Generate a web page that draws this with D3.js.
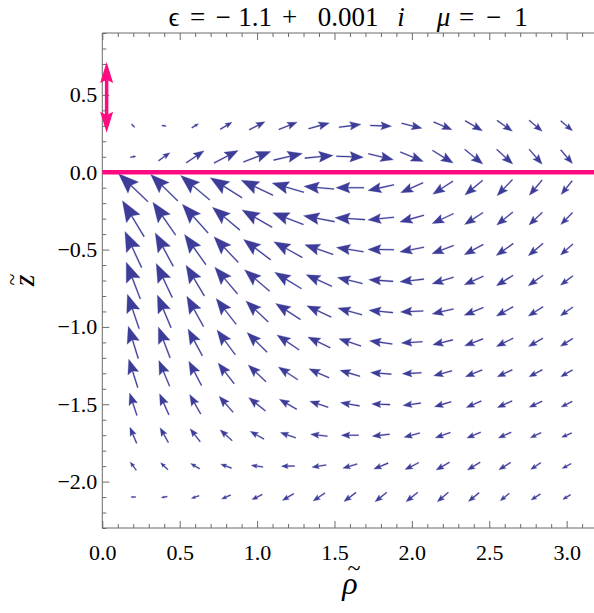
<!DOCTYPE html>
<html><head><meta charset="utf-8">
<script src="https://cdn.jsdelivr.net/npm/d3@7"></script>
<style>body{margin:0;background:#fff}</style>
</head><body>
<script>
// ---- data ----
const xGrid = [0.2,0.4,0.6,0.8,1.0,1.2,1.4,1.6,1.8,2.0,2.2,2.4,2.6,2.8,3.0];
const zGrid = [0.3,0.1,-0.1,-0.3,-0.5,-0.7,-0.9,-1.1,-1.3,-1.5,-1.7,-1.9,-2.1];
// vector components (rho, z), one row per z value
const uComp = [
 [3.4,4.5,6.7,11.7,15.7,18.3,20.7,22,21.3,20.3,18.3,17.3,15.3,13,11.7],
 [5.7,11.3,17.7,24,27.3,28.7,28.3,27,25,23,20.7,18,16,13,11.7],
 [-29.3,-27,-29,-31.7,-31.7,-31.7,-30,-28,-26,-22.3,-20,-17.7,-15.3,-12.7,-11],
 [-21.7,-22.7,-25.7,-27.3,-30,-30.7,-31,-30,-26,-24,-21.3,-18.3,-16,-13.3,-11.7],
 [-16.7,-18,-21.3,-24.3,-27,-28.3,-28.3,-27,-26,-24,-21.7,-19,-17,-14.7,-12.3],
 [-14,-16,-18.3,-22.7,-25,-26.7,-25.7,-25,-24.3,-24,-21.3,-19,-16.7,-14.7,-12.3],
 [-11.7,-13.7,-16.7,-20,-22.3,-24.7,-24.3,-24,-24,-22.7,-21.3,-19,-16.7,-14.7,-12.3],
 [-10,-11.7,-14.3,-18.3,-20,-22,-22.3,-22,-22.7,-21,-20,-18.3,-16.7,-14.3,-12.3],
 [-9,-10.7,-12.7,-16,-17.7,-19.3,-20,-20,-20.7,-19,-18.3,-16.7,-15,-13.3,-11.7],
 [-7.3,-9.3,-11,-14,-16.7,-17.3,-18.3,-19,-18.3,-17.7,-16.7,-15,-14.7,-12.7,-11],
 [-6.7,-8.3,-10,-12,-13.7,-15.3,-16.7,-17.3,-17.3,-15.7,-15,-13.7,-12.7,-10.7,-10],
 [-6,-7.3,-9,-10.7,-11.7,-13.3,-14.3,-14.3,-14.3,-13.7,-13.3,-12.7,-11.7,-10,-9],
 [-5,-6,-7.7,-9,-10.3,-11.3,-11.7,-12,-11.7,-11.7,-11,-10.7,-9,-9.3,-7.7]
];
const vComp = [
 [-3.3,-0.5,4,7,8,7.3,5.7,3,-0.7,-5,-7.7,-10,-10.7,-11,-10],
 [1,8,12,12.3,10.3,6.7,2.7,-1,-6,-9.3,-12.7,-14.7,-14.7,-15,-13.7],
 [27.7,26.3,24.3,20,15,9.3,2.7,0,-5.7,-10,-13,-14.7,-16,-15,-13.7],
 [36,32.7,28.7,22.7,17.3,11.7,6,2,-2.7,-6.7,-10,-12,-13,-12.7,-12],
 [36,33.3,30,25.7,20.3,15.7,9.7,4.3,0.3,-4.7,-8.3,-10.3,-12,-12.3,-11],
 [36.7,34,30.7,26.7,21.3,16.3,11.7,6,1.7,-2.7,-6.7,-8.7,-10.3,-10.3,-9.3],
 [34.3,32.7,30.3,25.7,21,16,11.3,6.7,2.3,-1,-5,-7.7,-9.3,-9.3,-8.7],
 [32.3,30.7,26.7,24.7,19.7,15,10.7,7.3,3.3,-1.3,-5,-7,-8.3,-8.3,-7.7],
 [28.3,25.7,24.3,20.7,16.7,12.7,9,6,1.7,-1,-5,-6.7,-7,-7,-6.7],
 [22.3,21,19.3,16,13.3,10,6,3.3,0.7,-2.3,-5,-6.3,-6.7,-6,-5.7],
 [16,14.7,13,10.7,7.7,5.3,2,0,-2,-4.3,-5.3,-5.7,-5.7,-5,-4.3],
 [8.3,7,5.3,4,1.7,-0.3,-2.3,-4.3,-6,-7,-7.7,-7.7,-7.3,-6.7,-5],
 [0,-1,-2.7,-4,-5,-6.7,-8,-9,-9.3,-9.3,-9.3,-8.7,-7.3,-6,-4.7]
];
const vecScale = 1/154.7;           // field units -> data units
const xMajor = [0,0.5,1.0,1.5,2.0,2.5,3.0];
const yMajor = [-2.0,-1.5,-1.0,-0.5,0.0,0.5];
const xDomain = [0,3.2], yDomain = [-2.3,0.9];
const sourceArrow = {x:0.028, z0:0.255, z1:0.713};
const titleParts = [
 {t:"ϵ", it:false},{t:"=", it:false},{t:"−", it:false},{t:"1.1", it:false},{t:"+", it:false},
 {t:"0.001", it:false},{t:"i", it:true},{t:"μ", it:true},{t:"=", it:false},{t:"−", it:false},{t:"1", it:false}
];

// ---- layout ----
const W=594,H=613;
const L=102.3, R=597.6, T=33, B=528;
const F="Liberation Serif";
const svg=d3.select("body").append("svg").attr("width",W).attr("height",H).attr("font-family",F);
const x=d3.scaleLinear().domain(xDomain).range([L,R]);
const y=d3.scaleLinear().domain(yDomain).range([B,T]);
const frameCol="#6a6a6a";
const arrowCol="#3d3d99";
const pink="#ff0a80";

// title
const tMid=[174,197.5,223,255,289.5,348,401,443.5,466.5,493.5,521];
titleParts.forEach((p,k)=>{
  const t=svg.append("text").attr("x",tMid[k]).attr("y",26).attr("text-anchor","middle")
   .attr("font-family",F).attr("font-size",27).text(p.t);
  if(p.it) t.attr("font-style","italic");
});
// axis labels
const cx=(L+R)/2;
svg.append("text").attr("x",cx).attr("y",594).attr("text-anchor","middle").attr("font-family",F)
  .attr("font-size",32).attr("font-style","italic").text("ρ");
svg.append("text").attr("x",cx+4).attr("y",576).attr("text-anchor","middle").attr("font-family",F)
  .attr("font-size",24).text("~");
const gz=svg.append("g").attr("transform",`translate(34,${(T+B)/2}) rotate(-90)`);
gz.append("text").attr("x",0).attr("y",0).attr("text-anchor","middle").attr("font-family",F)
  .attr("font-size",30).attr("font-style","italic").text("z");
gz.append("text").attr("x",1).attr("y",-15).attr("text-anchor","middle").attr("font-family",F)
  .attr("font-size",22).text("~");

const xMinor=d3.range(0,33).map(i=>i/10).filter(v=>!xMajor.some(m=>Math.abs(m-v)<1e-6));
const yMinor=d3.range(-23,10).map(i=>i/10).filter(v=>!yMajor.some(m=>Math.abs(m-v)<1e-6));
const fmt=d3.format(".1f");
function styleAxis(g){g.attr("font-family",F).attr("font-size",22);
 g.select(".domain").remove();g.selectAll("line").attr("stroke",frameCol);
 g.selectAll("text").attr("fill","#000");}
svg.append("g").attr("transform",`translate(${L},0)`).call(d3.axisLeft(y).tickValues(yMajor).tickSize(-7).tickPadding(5).tickFormat(fmt)).call(styleAxis);
svg.append("g").attr("transform",`translate(0,${B})`).call(d3.axisBottom(x).tickValues(xMajor).tickSize(-7).tickPadding(16).tickFormat(fmt)).call(styleAxis);
svg.append("g").attr("transform",`translate(0,${B})`).call(d3.axisBottom(x).tickValues(xMinor).tickSize(-4).tickFormat("")).call(styleAxis);
svg.append("g").attr("transform",`translate(0,${T})`).call(d3.axisTop(x).tickValues(xMajor).tickSize(-7).tickFormat("")).call(styleAxis);
svg.append("g").attr("transform",`translate(0,${T})`).call(d3.axisTop(x).tickValues(xMinor).tickSize(-4).tickFormat("")).call(styleAxis);
svg.append("g").attr("transform",`translate(${L},0)`).call(d3.axisLeft(y).tickValues(yMinor).tickSize(-4).tickFormat("")).call(styleAxis);

svg.append("line").attr("x1",L).attr("x2",L).attr("y1",T).attr("y2",B).attr("stroke",frameCol).attr("stroke-width",1);
svg.append("line").attr("x1",L).attr("x2",W).attr("y1",T).attr("y2",T).attr("stroke",frameCol).attr("stroke-width",1);
svg.append("line").attr("x1",L).attr("x2",W).attr("y1",B).attr("y2",B).attr("stroke",frameCol).attr("stroke-width",1);

// vector field: one filled outline per arrow (stem + head)
const arrows=[];
zGrid.forEach((zv,i)=>xGrid.forEach((xv,j)=>{
  const du=uComp[i][j]*vecScale, dv=vComp[i][j]*vecScale;
  arrows.push({x0:x(xv-du/2),y0:y(zv-dv/2),x1:x(xv+du/2),y1:y(zv+dv/2)});
}));
function arrowPath(a){
  const dx=a.x1-a.x0, dy=a.y1-a.y0, len=Math.hypot(dx,dy);
  if(len<0.5) return "";
  const ux=dx/len, uy=dy/len, px=-uy, py=ux;
  const hl=0.5*len, hw=0.19*len, sw=0.55;
  const bx=a.x1-ux*hl, by=a.y1-uy*hl;
  const nx=a.x1-ux*hl*0.85, ny=a.y1-uy*hl*0.85;
  const f=v=>v.toFixed(2);
  return `M${f(a.x1)},${f(a.y1)}L${f(bx+px*hw)},${f(by+py*hw)}L${f(nx+px*sw)},${f(ny+py*sw)}`+
   `L${f(a.x0+px*sw)},${f(a.y0+py*sw)}L${f(a.x0-px*sw)},${f(a.y0-py*sw)}`+
   `L${f(nx-px*sw)},${f(ny-py*sw)}L${f(bx-px*hw)},${f(by-py*hw)}Z`;
}
svg.append("g").selectAll("path").data(arrows).join("path").attr("d",arrowPath)
  .attr("fill",arrowCol).attr("stroke",arrowCol).attr("stroke-width",0.3).attr("stroke-linejoin","round");

svg.append("line").attr("x1",x(0)).attr("x2",W).attr("y1",y(0)).attr("y2",y(0)).attr("stroke",pink).attr("stroke-width",4.5);
{
  const ax=x(sourceArrow.x), ya=y(sourceArrow.z1), yb=y(sourceArrow.z0);
  const hl=21, hw=6.5;
  svg.append("line").attr("x1",ax).attr("x2",ax).attr("y1",ya+hl*0.8).attr("y2",yb-hl*0.8).attr("stroke",pink).attr("stroke-width",3.5);
  svg.append("path").attr("d",`M${ax},${ya}L${ax+hw},${ya+hl}L${ax},${ya+hl*0.85}L${ax-hw},${ya+hl}Z`).attr("fill",pink);
  svg.append("path").attr("d",`M${ax},${yb}L${ax+hw},${yb-hl}L${ax},${yb-hl*0.85}L${ax-hw},${yb-hl}Z`).attr("fill",pink);
}
</script>
</body></html>
